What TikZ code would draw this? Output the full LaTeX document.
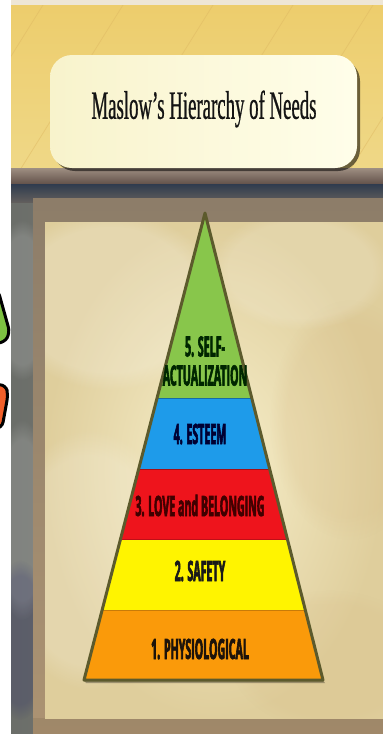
\documentclass[tikz,border=0pt]{standalone}
\usepackage{fontspec}
\usetikzlibrary{fadings}
\newfontfamily\titlefont[FakeStretch=0.47, FakeBold=0.6]{Liberation Serif}
\newfontfamily\bandfont[FakeStretch=0.38, BoldFeatures={FakeBold=2}]{Open Sans}
\definecolor{bandyellow}{HTML}{ECD172}
\definecolor{topstrip}{HTML}{EEE6D6}
\definecolor{shelf}{HTML}{7E6958}
\definecolor{shelfdark}{HTML}{62514A}
\definecolor{navyband}{HTML}{2F3B4E}
\definecolor{framebrown}{HTML}{AC9372}
\definecolor{cloudgrey}{HTML}{8E928C}
\definecolor{parchA}{HTML}{F7EFCB}
\definecolor{parchB}{HTML}{DFCE9C}
\definecolor{boxcream}{HTML}{F8F3CC}
\definecolor{boxlight}{HTML}{FFFEEA}
\definecolor{pyrgreen}{HTML}{88C64B}
\definecolor{pyrblue}{HTML}{1E9BEA}
\definecolor{pyrred}{HTML}{EE141C}
\definecolor{pyryellow}{HTML}{FFF400}
\definecolor{pyrorange}{HTML}{FA9A0A}
\definecolor{pyredge}{HTML}{5C5A2C}
\definecolor{sidegreen}{HTML}{7DC242}
\definecolor{sideorange}{HTML}{F2602A}
\tikzset{
  bandtext/.style={font=\bandfont\bfseries\fontsize{28}{29}\selectfont, inner sep=0pt, align=center},
  titletext/.style={font=\titlefont\fontsize{40}{44}\selectfont, inner sep=0pt, text=black!92},
  pyrline/.style={line width=3pt, draw=pyredge, line join=round},
  softblob/.style={path fading=circle with fuzzy edge 20 percent}
}
\begin{document}
\begin{tikzpicture}[x=1pt,y=-1pt]
\useasboundingbox (0,0) rectangle (383,734);
\fill[white] (0,0) rectangle (383,734);
% top strip and yellow band
\fill[topstrip] (11,0) rectangle (383,5);
\shade[top color=bandyellow!95!orange, bottom color=bandyellow!85!white] (11,5) rectangle (383,170);
\begin{scope}
  \clip (11,5) rectangle (383,170);
  \foreach \x in {-60,20,110,190,270,350}
    \draw[bandyellow!70!brown, line width=0.8pt, opacity=0.5] (\x,170) -- (\x+103,5);
\end{scope}
% shelf
\shade[top color=shelf!75!white, bottom color=shelfdark] (11,168) rectangle (383,184);
% cloudy frame
\shade[left color=cloudgrey!75!black, right color=cloudgrey!70!framebrown] (11,184) rectangle (383,734);
\begin{scope}
  \clip (11,184) rectangle (33,734);
  \fill[white, opacity=0.15, softblob] (22,300) ellipse (30 and 80);
  \fill[white, opacity=0.15, softblob] (22,520) ellipse (30 and 100);
  \fill[black!60!blue, opacity=0.15, softblob] (20,640) ellipse (30 and 80);
\end{scope}
\shade[top color=navyband, bottom color=navyband!60!framebrown] (11,184) rectangle (383,202);
\shade[top color=framebrown!75!navyband, bottom color=framebrown] (33,198) rectangle (383,734);
\fill[framebrown!80!black, opacity=0.35] (33,718) rectangle (383,734);
% parchment
\shade[inner color=parchA, outer color=parchB] (45,222) rectangle (383,718);
\begin{scope}
  \clip (45,222) rectangle (383,718);
  \fill[white, opacity=0.2, softblob] (110,300) ellipse (110 and 90);
  \fill[white, opacity=0.18, softblob] (90,560) ellipse (90 and 130);
  \fill[parchB!70!brown, opacity=0.18, softblob] (350,420) ellipse (80 and 120);
  \fill[parchB!70!brown, opacity=0.15, softblob] (330,660) ellipse (100 and 70);
  \fill[white, opacity=0.15, softblob] (300,270) ellipse (90 and 60);
\end{scope}
% left partial shapes
\begin{scope}
  \clip (0,0) rectangle (11,734);
  \draw[line width=3pt, fill=sidegreen, rounded corners=6pt] (-20,285) -- (-2,290) -- (10,333) -- (4,343) -- (-20,343) -- cycle;
  \draw[line width=3pt, fill=sideorange, rounded corners=6pt] (-20,384) -- (6,385) -- (8,395) -- (2,428) -- (-20,430) -- cycle;
\end{scope}
% title box
\fill[black, opacity=0.55, rounded corners=22pt] (53,59) rectangle (360,171);
\shade[left color=boxcream, right color=boxlight, rounded corners=22pt] (50,55) rectangle (357,168);
\node[titletext] (title) at (204,109) {Maslow’s Hierarchy of Needs};
% pyramid
\coordinate (apex) at (205,213);
\coordinate (bl) at (84,680);
\coordinate (br) at (323,680);
\fill[black, opacity=0.3] (86,683) -- (325,683) -- (323,680) -- (84,680) -- cycle;
\begin{scope}
  \clip (apex) -- (bl) -- (br) -- cycle;
  \fill[pyrgreen] (60,200) rectangle (350,398);
  \fill[pyrblue] (60,398) rectangle (350,469);
  \fill[pyrred] (60,469) rectangle (350,539);
  \fill[pyryellow] (60,539) rectangle (350,610);
  \fill[pyrorange] (60,610) rectangle (350,690);
  \draw[pyrblue!70!black, line width=0.8pt] (60,398) -- (350,398);
  \draw[pyrred!70!black, line width=1pt] (60,469) -- (350,469);
  \draw[pyrred!80!black, line width=0.8pt] (60,539) -- (350,539);
  \draw[pyrorange!80!black, line width=0.8pt] (60,610) -- (350,610);
\end{scope}
\draw[pyrline] (apex) -- (bl) -- (br) -- cycle;
% labels
\node[bandtext, text=black!85!green] (selfact) at (205,361) {5. SELF-\\ACTUALIZATION};
\node[bandtext, text=black!80!blue, anchor=base] (esteem) at (200,444) {4. ESTEEM};
\node[bandtext, text=black!75!red, anchor=base] (love) at (200,516) {3. LOVE and BELONGING};
\node[bandtext, text=black!90, anchor=base] (safety) at (200,581) {2. SAFETY};
\node[bandtext, text=black!85!brown, anchor=base] (physio) at (200,659) {1. PHYSIOLOGICAL};
\end{tikzpicture}
\end{document}
